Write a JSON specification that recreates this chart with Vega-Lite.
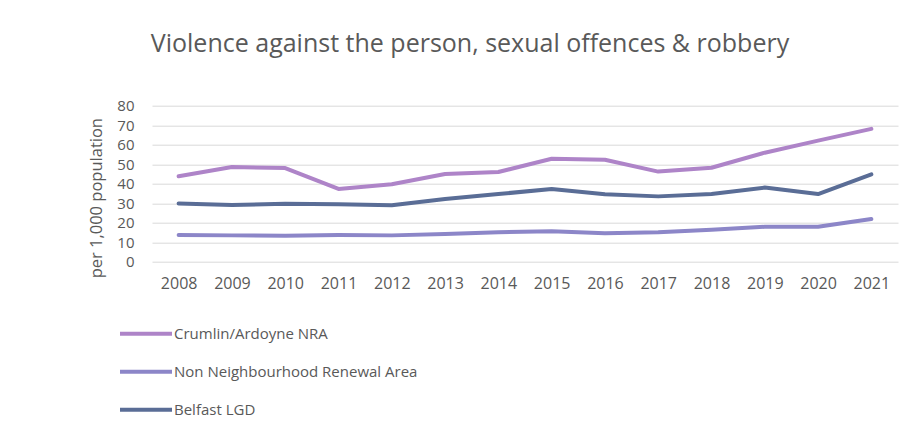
{
  "$schema": "https://vega.github.io/schema/vega-lite/v6.json",
  "autosize": {"type": "none"},
  "width": 746,
  "height": 156,
  "padding": {"left": 152, "top": 105.7, "right": 21, "bottom": 183.3},
  "background": "white",
  "config": {
    "view": {"stroke": null},
    "font": "Open Sans"
  },
  "title": {
    "text": "Violence against the person, sexual offences & robbery",
    "font": "Open Sans",
    "fontSize": 25,
    "fontWeight": "normal",
    "color": "#595959",
    "anchor": "middle",
    "frame": "group",
    "dx": -55,
    "offset": 42
  },
  "data": {
    "values": [
      {"year": "2008", "series": "Crumlin/Ardoyne NRA", "value": 43.8},
      {"year": "2009", "series": "Crumlin/Ardoyne NRA", "value": 48.6},
      {"year": "2010", "series": "Crumlin/Ardoyne NRA", "value": 48.0},
      {"year": "2011", "series": "Crumlin/Ardoyne NRA", "value": 37.3},
      {"year": "2012", "series": "Crumlin/Ardoyne NRA", "value": 39.7},
      {"year": "2013", "series": "Crumlin/Ardoyne NRA", "value": 45.0},
      {"year": "2014", "series": "Crumlin/Ardoyne NRA", "value": 46.0},
      {"year": "2015", "series": "Crumlin/Ardoyne NRA", "value": 52.8},
      {"year": "2016", "series": "Crumlin/Ardoyne NRA", "value": 52.3},
      {"year": "2017", "series": "Crumlin/Ardoyne NRA", "value": 46.2},
      {"year": "2018", "series": "Crumlin/Ardoyne NRA", "value": 48.2},
      {"year": "2019", "series": "Crumlin/Ardoyne NRA", "value": 55.9},
      {"year": "2020", "series": "Crumlin/Ardoyne NRA", "value": 62.1},
      {"year": "2021", "series": "Crumlin/Ardoyne NRA", "value": 68.1},
      {"year": "2008", "series": "Non Neighbourhood Renewal Area", "value": 13.7},
      {"year": "2009", "series": "Non Neighbourhood Renewal Area", "value": 13.5},
      {"year": "2010", "series": "Non Neighbourhood Renewal Area", "value": 13.3},
      {"year": "2011", "series": "Non Neighbourhood Renewal Area", "value": 13.7},
      {"year": "2012", "series": "Non Neighbourhood Renewal Area", "value": 13.5},
      {"year": "2013", "series": "Non Neighbourhood Renewal Area", "value": 14.2},
      {"year": "2014", "series": "Non Neighbourhood Renewal Area", "value": 15.1},
      {"year": "2015", "series": "Non Neighbourhood Renewal Area", "value": 15.6},
      {"year": "2016", "series": "Non Neighbourhood Renewal Area", "value": 14.6},
      {"year": "2017", "series": "Non Neighbourhood Renewal Area", "value": 15.1},
      {"year": "2018", "series": "Non Neighbourhood Renewal Area", "value": 16.4},
      {"year": "2019", "series": "Non Neighbourhood Renewal Area", "value": 17.9},
      {"year": "2020", "series": "Non Neighbourhood Renewal Area", "value": 17.9},
      {"year": "2021", "series": "Non Neighbourhood Renewal Area", "value": 21.9},
      {"year": "2008", "series": "Belfast LGD", "value": 29.9},
      {"year": "2009", "series": "Belfast LGD", "value": 29.1},
      {"year": "2010", "series": "Belfast LGD", "value": 29.7},
      {"year": "2011", "series": "Belfast LGD", "value": 29.4},
      {"year": "2012", "series": "Belfast LGD", "value": 28.9},
      {"year": "2013", "series": "Belfast LGD", "value": 32.2},
      {"year": "2014", "series": "Belfast LGD", "value": 34.7},
      {"year": "2015", "series": "Belfast LGD", "value": 37.3},
      {"year": "2016", "series": "Belfast LGD", "value": 34.6},
      {"year": "2017", "series": "Belfast LGD", "value": 33.5},
      {"year": "2018", "series": "Belfast LGD", "value": 34.7},
      {"year": "2019", "series": "Belfast LGD", "value": 38.0},
      {"year": "2020", "series": "Belfast LGD", "value": 34.7},
      {"year": "2021", "series": "Belfast LGD", "value": 44.8}
    ]
  },
  "mark": {"type": "line", "strokeWidth": 4, "strokeCap": "round", "strokeJoin": "round"},
  "encoding": {
    "x": {
      "field": "year",
      "type": "ordinal",
      "scale": {"type": "point", "padding": 0.5},
      "axis": {
        "title": null,
        "labelAngle": 0,
        "labelFontSize": 16,
        "labelColor": "#595959",
        "labelPadding": 14,
        "ticks": false,
        "domain": false,
        "grid": false
      }
    },
    "y": {
      "field": "value",
      "type": "quantitative",
      "scale": {"domain": [0, 80], "nice": false},
      "axis": {
        "values": [0, 10, 20, 30, 40, 50, 60, 70, 80],
        "title": "per 1,000 population",
        "titleFontSize": 16.5,
        "titleFontWeight": "normal",
        "titleColor": "#595959",
        "titleX": -56,
        "titleY": 92,
        "titleAngle": -90,
        "titleAlign": "center",
        "titleBaseline": "middle",
        "labelFontSize": 15,
        "labelColor": "#595959",
        "labelPadding": 18,
        "ticks": false,
        "domain": false,
        "gridColor": "#D9D9D9",
        "gridWidth": 1
      }
    },
    "color": {
      "field": "series",
      "type": "nominal",
      "sort": ["Crumlin/Ardoyne NRA", "Non Neighbourhood Renewal Area", "Belfast LGD"],
      "scale": {
        "domain": ["Crumlin/Ardoyne NRA", "Non Neighbourhood Renewal Area", "Belfast LGD"],
        "range": ["#AE84C8", "#8C86C8", "#5A6D96"]
      },
      "legend": {
        "title": null,
        "orient": "none",
        "legendX": -34,
        "legendY": 200,
        "direction": "vertical",
        "symbolType": "stroke",
        "symbolSize": 2704,
        "symbolStrokeWidth": 4,
        "labelFontSize": 15,
        "labelColor": "#595959",
        "labelOffset": 0,
        "labelLimit": 400,
        "rowPadding": 2
      }
    }
  }
}
